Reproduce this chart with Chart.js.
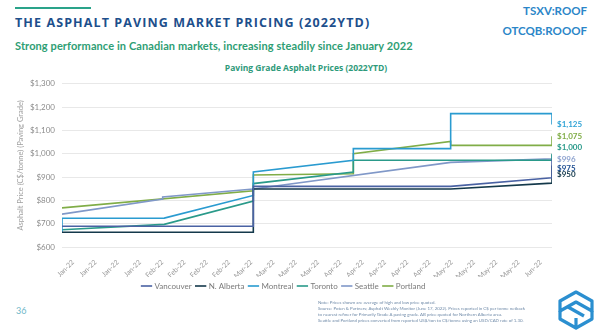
<!DOCTYPE html>
<html>
<head>
<meta charset="utf-8">
<script src="https://cdn.jsdelivr.net/npm/chart.js@4/dist/chart.umd.min.js"></script>
<style>
  body { margin: 0; width: 600px; height: 330px; background: #fff; position: relative; overflow: hidden; font-family: Lato, "Open Sans", sans-serif; }
  .bar { position: absolute; left: 15px; top: 7px; width: 76px; height: 2px; background: #2aa38a; }
  .title { position: absolute; left: 15px; top: 14px; font: bold 12.5px "Open Sans", sans-serif; letter-spacing: 1.1px; color: #1d4f8c; }
  .ticker { position: absolute; right: 13px; font: bold 11.5px Lato, sans-serif; color: #2b86c8; text-align: right; }
  .sub { position: absolute; left: 15px; top: 39px; font: bold 11px Lato, sans-serif; letter-spacing: 0.1px; color: #2e9e74; }
  .ctitle { position: absolute; left: 0; width: 612px; top: 62px; text-align: center; font: bold 8.5px "Open Sans", sans-serif; color: #2e9a7a; }
  .page { position: absolute; left: 16px; top: 305px; font: 9px Lato, sans-serif; color: #6fb7c9; }
  .note { position: absolute; left: 318px; top: 300px; font: 4.4px Lato, sans-serif; line-height: 6px; color: #6f8aa8; white-space: nowrap; }
  #wrap { position: absolute; left: 0; top: 72px; width: 600px; height: 230px; }
  svg { position: absolute; left: 556px; top: 290px; }
</style>
</head>
<body>
<div class="bar"></div>
<div class="title">THE ASPHALT PAVING MARKET PRICING (2022YTD)</div>
<div class="ticker" style="top:4px">TSXV:ROOF</div>
<div class="ticker" style="top:24px">OTCQB:ROOOF</div>
<div class="sub">Strong performance in Canadian markets, increasing steadily since January 2022</div>
<div class="ctitle">Paving Grade Asphalt Prices (2022YTD)</div>
<div id="wrap"><canvas id="chart"></canvas></div>
<div class="page">36</div>
<div class="note">Note: Prices shown are average of high and low price quoted.<br>Source: Poten &amp; Partners; Asphalt Weekly Monitor (June 17, 2022). Prices reported in C$ per tonne netback<br>to nearest refiner for Primarily Grade A paving grade. AB price quoted for Northern Alberta area.<br>Seattle and Portland prices converted from reported US$/ton to C$/tonne using an USD/CAD rate of 1.30.</div>
<svg width="40" height="40" viewBox="0 0 40 40" fill="none" stroke="#2b8fd0" stroke-width="3.2" stroke-linejoin="round">
  <path d="M20 2 L36 11 L36 21 L20 12 L4 21 L4 11 Z"/>
  <path d="M4 21 L4 29 L20 38 L20 28"/>
  <path d="M36 21 L36 29 L20 38"/>
  <path d="M12 17 L28 26"/>
</svg>
<script>
const tickLabels = ["Jan-22", "Jan-22", "Jan-22", "Jan-22", "Feb-22", "Feb-22", "Feb-22", "Feb-22",
  "Mar-22", "Mar-22", "Mar-22", "Mar-22", "Apr-22", "Apr-22", "Apr-22", "Apr-22", "Apr-22",
  "May-22", "May-22", "May-22", "May-22", "Jun-22"];
const seriesNames = ["Vancouver", "N. Alberta", "Montreal", "Toronto", "Seattle", "Portland"];

// x is measured in tick slots (0 = left edge of the plot, 22 = right edge)
const vancouverX = [0, 8.59, 8.59, 17.45, 22, 22];
const vancouverY = [689, 689, 860, 860, 897, 975];
const albertaX = [0, 8.59, 8.59, 17.45, 22, 22];
const albertaY = [663, 663, 849, 849, 874, 950];
const montrealX = [0, 0, 4.59, 8.59, 8.59, 13.08, 13.08, 17.45, 17.45, 22, 22];
const montrealY = [663, 723, 724, 821, 922, 972, 1022, 1022, 1172, 1172, 1125];
const torontoX = [0, 4.59, 8.59, 8.59, 13.08, 13.08, 22, 22];
const torontoY = [674, 697, 797, 872, 921, 972, 972, 1000];
const seattleX = [0, 4.52, 4.52, 8.59, 17.45, 22, 22];
const seattleY = [741, 806, 815, 849, 963, 978, 996];
const portlandX = [0, 8.59, 8.59, 13.08, 13.08, 17.45, 17.45, 22, 22];
const portlandY = [768, 841, 909, 914, 1000, 1053, 1036, 1036, 1075];
const endLabels = ["$975", "$950", "$1,125", "$1,000", "$996", "$1,075"];

const colors = ["#4a62a3", "#14394b", "#2a9bd0", "#2a9a8a", "#8098c8", "#80ad47"];
const labelColors = ["#1f4f93", "#14394b", "#2fa3d6", "#2a9a8a", "#8ea3cf", "#80ad47"];
const labelNudge = [9, 9.5, 0, -6, 4.5, 0];

const xs = [vancouverX, albertaX, montrealX, torontoX, seattleX, portlandX];
const ys = [vancouverY, albertaY, montrealY, torontoY, seattleY, portlandY];

const datasets = seriesNames.map((name, i) => ({
  label: name,
  data: xs[i].map((x, j) => ({ x: x, y: ys[i][j] })),
  borderColor: colors[i],
  backgroundColor: colors[i],
  borderWidth: 1.6,
  pointRadius: 0,
  tension: 0,
  fill: false,
}));

const endLabelPlugin = {
  id: "endLabels",
  afterDatasetsDraw(chart) {
    const ctx = chart.ctx;
    ctx.save();
    ctx.font = "bold 8px Lato, sans-serif";
    ctx.textBaseline = "middle";
    chart.data.datasets.forEach((ds, i) => {
      const pts = chart.getDatasetMeta(i).data;
      const last = pts[pts.length - 1];
      ctx.fillStyle = labelColors[i];
      ctx.fillText(endLabels[i], last.x + 5, last.y + labelNudge[i]);
    });
    ctx.restore();
  },
};

new Chart(document.getElementById("chart"), {
  type: "line",
  data: { datasets: datasets },
  options: {
    responsive: true,
    maintainAspectRatio: false,
    animation: false,
    layout: { padding: { left: 16, right: 48, top: 4, bottom: 2 } },
    scales: {
      x: {
        type: "linear",
        min: 0,
        max: 22,
        grid: { display: false },
        border: { display: false },
        afterBuildTicks: (scale) => {
          scale.ticks = tickLabels.map((t, i) => ({ value: i + 0.5 }));
        },
        afterFit: (scale) => { scale.height = 30; },
        ticks: {
          autoSkip: false,
          maxRotation: 45,
          minRotation: 45,
          padding: 3,
          color: "#9a9a9a",
          font: { family: "Lato", size: 7 },
          callback: (value) => tickLabels[Math.round(value - 0.5)],
        },
      },
      y: {
        min: 600,
        max: 1300,
        afterFit: (scale) => { scale.width = 46; },
        border: { display: false },
        grid: { color: "#e8e8e8", lineWidth: 1, drawTicks: false },
        ticks: {
          stepSize: 100,
          padding: 7,
          color: "#8c8c8c",
          font: { family: "Lato", size: 8 },
          callback: (v) => "$" + v.toLocaleString("en-US"),
        },
        title: {
          display: true,
          text: "Asphalt Price (C$/tonne) (Paving Grade)",
          color: "#a0a0a0",
          font: { family: "Lato", size: 7.5 },
          padding: 0,
        },
      },
    },
    plugins: {
      legend: {
        position: "bottom",
        labels: {
          usePointStyle: true,
          pointStyle: "line",
          boxWidth: 12,
          padding: 5,
          color: "#7a7a7a",
          font: { family: "Lato", size: 8 },
        },
      },
      tooltip: { enabled: false },
    },
  },
  plugins: [endLabelPlugin],
});
</script>
</body>
</html>
